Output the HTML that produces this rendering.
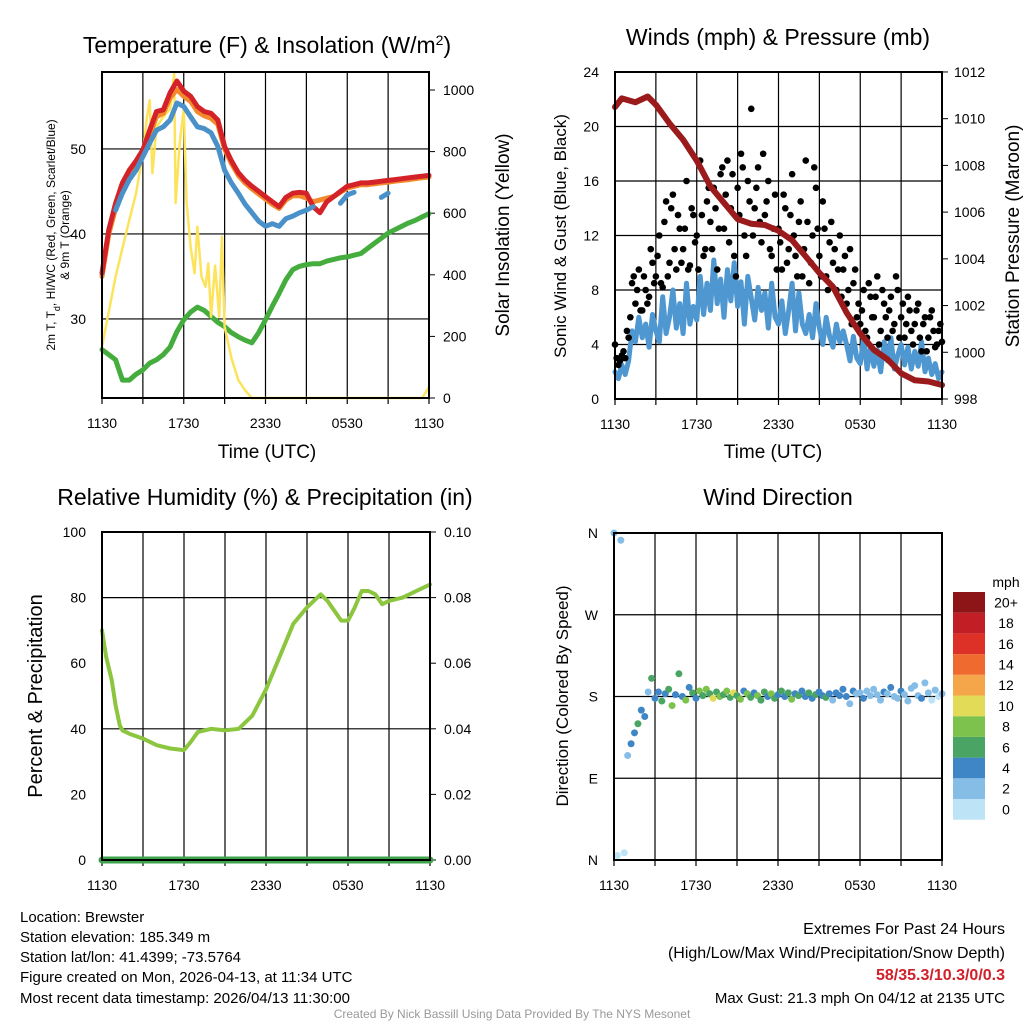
<!DOCTYPE html>
<html><head><meta charset="utf-8"><style>
html,body{margin:0;padding:0;background:#fff;}
svg{display:block;font-family:"Liberation Sans",Arial,sans-serif;}
</style></head><body>
<svg id="c" width="1024" height="1024" viewBox="0 0 1024 1024" xmlns="http://www.w3.org/2000/svg">
<rect width="1024" height="1024" fill="#fff"/>
<text x="267" y="53" font-size="23" text-anchor="middle">Temperature (F) &amp; Insolation (W/m<tspan baseline-shift="super" font-size="14">2</tspan>)</text>
<text x="778" y="45" font-size="23" text-anchor="middle">Winds (mph) &amp; Pressure (mb)</text>
<text x="265" y="505" font-size="23" text-anchor="middle">Relative Humidity (%) &amp; Precipitation (in)</text>
<text x="778" y="505" font-size="23" text-anchor="middle">Wind Direction</text>
<text x="267" y="458" font-size="19" text-anchor="middle">Time (UTC)</text>
<text x="773" y="458" font-size="19" text-anchor="middle">Time (UTC)</text>
<text transform="translate(55,235) rotate(-90)" font-size="12" text-anchor="middle">2m T, T<tspan baseline-shift="sub" font-size="9">d</tspan>, HI/WC (Red, Green, Scarlet/Blue)</text>
<text transform="translate(69,235) rotate(-90)" font-size="12" text-anchor="middle">&amp; 9m T (Orange)</text>
<text transform="translate(509,235) rotate(-90)" font-size="19" text-anchor="middle">Solar Insolation (Yellow)</text>
<text transform="translate(566,236) rotate(-90)" font-size="17" text-anchor="middle">Sonic Wind &amp; Gust (Blue, Black)</text>
<text transform="translate(1019,236) rotate(-90)" font-size="19" text-anchor="middle">Station Pressure (Maroon)</text>
<text transform="translate(42,696) rotate(-90)" font-size="20" text-anchor="middle">Percent &amp; Precipitation</text>
<text transform="translate(568,696) rotate(-90)" font-size="17" text-anchor="middle">Direction (Colored By Speed)</text>
<g font-size="15">
<text x="20" y="922">Location: Brewster</text>
<text x="20" y="942">Station elevation: 185.349 m</text>
<text x="20" y="962">Station lat/lon: 41.4399; -73.5764</text>
<text x="20" y="982">Figure created on Mon, 2026-04-13, at 11:34 UTC</text>
<text x="20" y="1003">Most recent data timestamp: 2026/04/13 11:30:00</text>
</g>
<g font-size="16" text-anchor="end">
<text x="1005" y="934">Extremes For Past 24 Hours</text>
<text x="1005" y="958">(High/Low/Max Wind/Precipitation/Snow Depth)</text>
<text x="1005" y="980" fill="#d0202a" font-weight="bold">58/35.3/10.3/0/0.3</text>
<text x="1005" y="1003" font-size="15">Max Gust: 21.3 mph On 04/12 at 2135 UTC</text>
</g>
<text x="512" y="1018" font-size="12" fill="#999" text-anchor="middle">Created By Nick Bassill Using Data Provided By The NYS Mesonet</text>
<g id="plots"></g>
</svg>
<script>
// ---------- data ----------
const halfHours = [0,0.5,1,1.5,2,2.5,3,3.5,4,4.5,5,5.5,6,6.5,7,7.5,8,8.5,9,9.5,10,10.5,11,11.5,12,12.5,13,13.5,14,14.5,15,15.5,16,16.5,17,17.5,18,18.5,19,19.5,20,20.5,21,21.5,22,22.5,23,23.5,24];
const tempRed = [35.4,40.5,43.6,46.0,47.5,48.6,49.9,52.2,54.4,54.6,56.6,58.0,56.8,56.2,55.0,54.4,54.2,53.4,50.3,48.6,47.2,46.3,45.6,45.0,44.4,43.8,43.2,44.3,44.8,44.9,44.8,43.2,42.5,43.8,44.4,45.0,45.6,45.8,46.0,46.0,46.1,46.2,46.3,46.4,46.5,46.6,46.7,46.8,46.9];
const tempOrange = [35.0,40.0,43.0,45.5,47.0,48.2,49.4,51.6,53.8,54.2,56.0,57.0,56.2,55.6,54.4,53.9,53.6,52.9,50.0,48.3,46.9,46.0,45.3,44.7,44.1,43.5,43.0,44.0,44.5,44.5,44.2,43.8,44.0,44.2,44.4,44.9,45.4,45.6,45.8,45.8,45.9,46.0,46.1,46.2,46.3,46.4,46.5,46.6,46.7];
const tempBlue = [null,null,42.8,44.8,46.4,47.5,49.1,50.7,52.2,52.6,53.4,55.4,55.0,53.8,52.6,52.4,51.9,50.3,47.5,46.0,44.8,43.5,42.5,41.5,40.9,41.2,40.9,41.8,42.1,42.5,42.8,43.2,null,41.3,null,43.6,44.6,44.9,null,null,null,44.3,44.8,null,null,null,null,null,null];
const dewGreen = [26.4,25.8,25.2,22.8,22.8,23.5,24.0,24.8,25.2,25.8,26.7,28.5,29.9,30.8,31.4,31.0,30.3,29.6,29.1,28.4,27.9,27.5,27.2,28.4,29.9,31.5,33.0,34.6,35.8,36.2,36.4,36.5,36.5,36.8,37.0,37.2,37.3,37.5,37.7,38.3,38.9,39.5,40.1,40.5,40.9,41.3,41.6,42.0,42.4];
const solarHours = [0,1,2,2.5,3,3.3,3.5,3.7,4,4.5,5,5.3,5.4,5.7,6,6.2,6.5,6.8,7,7.3,7.6,7.8,8,8.3,8.6,8.8,9,9.5,10,10.5,11,23.5,24];
const solarValues = [167,394,578,665,795,913,967,730,880,913,938,1055,633,828,938,640,491,405,556,394,361,437,264,430,264,524,231,130,58,25,0,0,35];
const tempTicks = [30,40,50];
const solarTicks = [0,200,400,600,800,1000];
const timeTickLabels = ['1130','1730','2330','0530','1130'];

const quarterHours = []; for (let i=0;i<=96;i++) quarterHours.push(i/4);
const sonicWind = [2.0,1.5,2.5,1.8, 2.8,5.0,4.2,6.0, 4.5,5.5,3.8,6.2, 5.0,4.2,7.5,4.8, 6.0,8.0,5.2,7.0, 4.8,8.5,5.5,6.8, 5.8,9.0,6.2,8.5, 6.5,10.2,7.0,8.8, 6.0,9.5,7.2,10.0, 6.8,8.6,5.5,9.0, 7.4,5.8,8.2,6.5, 7.8,5.2,8.5,6.0, 5.5,7.2,4.8,6.5, 8.5,5.0,7.8,5.5, 4.8,6.2,4.5,7.0, 5.2,4.0,6.0,4.6, 3.8,5.5,4.2,5.0, 4.0,2.8,4.6,3.0, 2.6,4.5,2.2,3.8, 2.4,3.6,2.0,4.2, 2.8,4.5,2.2,3.2, 4.0,2.5,3.8,2.2, 3.5,2.4,4.2,2.0, 3.0,1.8,2.6,1.5, 2.0];
const gustA = [4.0,2.5,3.2,3.0, 4.5,8.5,7.0,9.5, 6.5,8.0,7.5,10.0, 9.0,12.0,8.2,14.5, 10.0,15.0,9.5,12.5, 11.0,16.0,9.8,13.5, 12.0,17.5,10.5,14.5, 13.0,15.5,9.5,16.5, 12.5,17.5,14.0,10.5, 15.5,18.0,12.0,16.0, 21.3,14.0,17.0,11.5, 13.5,16.0,10.5,15.0, 12.5,9.5,14.0,11.0, 16.5,10.5,13.0,9.0, 17.5,8.5,12.0,15.5, 10.5,14.5,9.0,11.5, 10.0,8.0,12.0,9.5, 7.0,11.0,8.5,6.0, 5.5,8.0,4.5,7.5, 6.0,9.0,5.0,7.0, 4.5,7.5,5.5,8.0, 6.0,4.5,7.5,5.0, 5.5,7.0,3.5,6.0, 4.5,6.5,3.8,5.0, 4.2];
const gustB = [3.0,2.8,3.5,5.0, 6.0,9.0,8.0,6.5, 9.0,7.0,11.0,8.5, 10.5,8.5,13.0,9.0, 14.0,11.0,13.5,10.0, 12.5,9.5,14.0,11.5, 9.5,13.5,11.0,15.5, 11.0,14.0,12.5,17.0, 15.0,11.5,16.5,9.0, 13.5,17.0,10.5,14.5, 12.0,15.5,13.0,18.0, 14.5,11.0,12.5,9.5, 11.5,15.0,10.0,13.5, 12.0,9.0,14.5,11.0, 13.0,10.0,17.0,12.5, 9.0,12.5,8.0,13.0, 11.0,9.5,7.5,10.5, 8.0,5.5,9.5,7.0, 6.5,5.0,8.5,6.0, 7.5,4.0,8.0,6.0, 6.5,5.0,9.0,4.5, 7.0,5.5,6.5,4.0, 6.5,4.5,5.5,3.5, 6.0,5.0,4.0,5.5];
const pressureHours = [0,0.5,1.5,2.4,3,4,5,6,7,8,9,10,11,12,13,14,15,16,17,18,19,20,21,22,23,24];
const pressure = [1010.5,1010.87,1010.7,1010.95,1010.6,1009.8,1009.1,1008.2,1007.1,1006.4,1005.7,1005.5,1005.45,1005.2,1004.8,1004.1,1003.4,1002.8,1001.7,1000.8,1000.1,999.7,999.1,998.8,998.75,998.6];
const windTicks = [0,4,8,12,16,20,24];
const pressureTicks = [998,1000,1002,1004,1006,1008,1010,1012];

const rhHours = [0,0.3,0.7,1,1.3,1.5,2,3,4,5,6,6.5,7,8,9,10,11,12,13,14,15,16,16.5,17,17.5,18,18.5,19,19.5,20,20.5,21,22,23,24];
const rh = [70,62,55,47,41,39.5,38.5,37,35,34,33.5,36,39,40,39.5,40,44,52,62,72,77,81,79,76,73,73,77,82,82,81,78,79,80,82,84];
const precip = [0,0];
const precipHours = [0,24];
const rhTicks = [0,20,40,60,80,100];
const precipTicks = ['0.00','0.02','0.04','0.06','0.08','0.10'];

const direction = [360,5,352,8, 115,128,140,150, 165,158,185,200, 178,185,175,183, 188,170,182,205, 180,176,190,184, 178,186,181,188, 183,178,185,180, 182,186,179,184, 181,177,186,183, 179,184,181,176, 185,180,183,178, 182,186,180,184, 177,183,181,186, 180,184,178,182, 185,181,179,183, 176,184,181,188, 180,172,186,183, 184,178,186,181, 188,182,176,185, 183,190,180,178, 186,182,175,189, 192,181,178,195, 184,176,187,180, 183];
const dirLabels = ['N','E','S','W','N'];
const speedBinLabels = ['0','2','4','6','8','10','12','14','16','18','20+'];
const speedBinColors = ['#bde3f6','#86bde6','#3f86c6','#4aa564','#7cc24d','#e2db57','#f6a64a','#ef6a2e','#dd3128','#c11f25','#8e1517'];

// ---------- helpers ----------
const NS='http://www.w3.org/2000/svg';
const root=document.getElementById('plots');
function mk(tag, attrs, parent){const e=document.createElementNS(NS,tag);for(const k in attrs)e.setAttribute(k,attrs[k]);(parent||root).appendChild(e);return e;}
function path(xs, ys, xf, yf, color, w, name){
  let d='',pen=false;
  for(let i=0;i<xs.length;i++){ if(ys[i]==null){pen=false;continue;} d+=(pen?'L':'M')+xf(xs[i]).toFixed(1)+','+yf(ys[i]).toFixed(1); pen=true; }
  const p=mk('path',{d:d,fill:'none',stroke:color,'stroke-width':w,'stroke-linejoin':'round','stroke-linecap':'round'});
  
  
  return p;
}
function frame(x0,y0,x1,y1,name,hgrid,vgridX){
  const g=mk('g',{});
  
  
  hgrid.forEach(y=>mk('line',{x1:x0,x2:x1,y1:y,y2:y,stroke:'#000','stroke-width':1.2},g));
  vgridX.forEach(x=>{mk('line',{x1:x,x2:x,y1:y0,y2:y1,stroke:'#000','stroke-width':1.2},g);mk('line',{x1:x,x2:x,y1:y1,y2:y1+6,stroke:'#000','stroke-width':1.2},g);});
  return g;
}
function box(x0,y0,x1,y1){const r=mk('rect',{x:x0,y:y0,width:x1-x0,height:y1-y0,fill:'none',stroke:'#000','stroke-width':2});}
function txt(x,y,s,anchor,size,name){const t=mk('text',{x:x,y:y,'font-size':size||14,'text-anchor':anchor||'middle'});t.textContent=s;return t;}
function timeTicks(x0,W,y){timeTickLabels.forEach((s,i)=>txt(x0+i*W/4,y,s,'middle',14,'x-tick-label'));}

// ---------- panel 1: temperature ----------
{
  const x0=102,x1=429,y0=72,y1=398;
  const X=t=>x0+t*(x1-x0)/24, YT=v=>y1-(v-20.7)*8.5, YS=w=>y1-w*0.308;
  const vg=[];for(let h=3;h<24;h+=3)vg.push(X(h));vg.push(X(0),X(24));
  frame(x0,y0,x1,y1,'temp-grid',tempTicks.map(YT),vg);
  tempTicks.forEach(v=>txt(x0-16,YT(v)+5,String(v),'end',14,'temp-tick-label'));
  solarTicks.forEach(v=>{txt(x1+14,YS(v)+5,String(v),'start',14,'solar-tick-label');mk('line',{x1:x1,x2:x1+6,y1:YS(v),y2:YS(v),stroke:'#000'});});
  timeTicks(x0,x1-x0,y1+30);
  path(halfHours,dewGreen,X,YT,'#44ad3e',5,'dewpoint-line');
  path(solarHours,solarValues,X,YS,'#fde35c',2.5,'insolation-line');
  path(halfHours,tempOrange,X,YT,'#f28a2c',5,'temp-9m-line');
  path(halfHours,tempRed,X,YT,'#d42328',5,'temp-2m-line');
  path(halfHours,tempBlue,X,YT,'#4b91c9',5,'heat-index-line');
  box(x0,y0,x1,y1);
}
// ---------- panel 2: winds ----------
{
  const x0=615,x1=942,y0=72,y1=399;
  const X=t=>x0+t*(x1-x0)/24, YW=v=>y1-v*13.625, YP=p=>y1-(p-998)*23.36;
  const vg=[];for(let h=3;h<24;h+=3)vg.push(X(h));vg.push(X(0),X(24));
  frame(x0,y0,x1,y1,'winds-grid',windTicks.map(YW),vg);
  windTicks.forEach(v=>txt(x0-16,YW(v)+5,String(v),'end',14,'wind-tick-label'));
  pressureTicks.forEach(v=>{txt(x1+12,YP(v)+5,String(v),'start',14,'pressure-tick-label');mk('line',{x1:x1,x2:x1+6,y1:YP(v),y2:YP(v),stroke:'#000'});});
  timeTicks(x0,x1-x0,y1+30);
  path(quarterHours,sonicWind,X,YW,'#4f97d0',5,'sonic-wind-line');
  gustA.forEach((v,i)=>{const c=mk('circle',{cx:X(quarterHours[i]),cy:YW(v),r:3.3,fill:'#000'});
    
    });
  gustB.forEach((v,i)=>{const c=mk('circle',{cx:X(quarterHours[i]+0.125),cy:YW(v),r:3.3,fill:'#000'});
    
    });
  path(pressureHours,pressure,X,YP,'#9b1b1c',6,'pressure-line');
  box(x0,y0,x1,y1);
}
// ---------- panel 3: humidity ----------
{
  const x0=102,x1=430,y0=532,y1=860;
  const X=t=>x0+t*(x1-x0)/24, YR=v=>y1-v*3.28;
  const vg=[];for(let h=3;h<24;h+=3)vg.push(X(h));vg.push(X(0),X(24));
  frame(x0,y0,x1,y1,'humidity-grid',[YR(40),YR(80)],vg);
  rhTicks.forEach((v,i)=>{txt(x0-16,YR(v)+5,String(v),'end',14,'rh-tick-label');txt(x1+14,YR(v)+5,precipTicks[i],'start',14,'precip-tick-label');mk('line',{x1:x1,x2:x1+6,y1:YR(v),y2:YR(v),stroke:'#000'});});
  timeTicks(x0,x1-x0,y1+30);
  path(rhHours,rh,X,YR,'#8cc63f',4,'humidity-line');
  path(precipHours,precip.map(v=>v*1000),X,YR,'#3fa34d',7,'precip-line');
  box(x0,y0,x1,y1);
}
// ---------- panel 4: direction ----------
{
  const x0=614,x1=942,y0=533,y1=860;
  const X=t=>x0+t*(x1-x0)/24, YD=d=>y1-d*(y1-y0)/360;
  const vg=[];for(let h=3;h<24;h+=3)vg.push(X(h));vg.push(X(0),X(24));
  frame(x0,y0,x1,y1,'direction-grid',[0,90,180,270,360].map(YD),vg);
  dirLabels.forEach((s,i)=>txt(x0-16,YD(i*90)+5,s,'end',14,'direction-tick-label'));
  timeTicks(x0,x1-x0,y1+30);
  const binOf=v=>Math.min(10,Math.floor(v/2));
  direction.forEach((d,i)=>{const c=mk('circle',{cx:X(quarterHours[i]),cy:YD(d),r:3.5,fill:speedBinColors[binOf(sonicWind[i])]});
    
    });
  box(x0,y0,x1,y1);
  const cb=mk('g',{});
  
  
  const bh=20.7, top=592;
  speedBinColors.forEach((col,i)=>{const k=10-i;mk('rect',{x:953,y:top+k*bh,width:32,height:bh,fill:col},cb);});
  speedBinLabels.forEach((s,i)=>{const k=10-i;txt(1006,top+k*bh+bh/2+5,s,'middle',14,'colorbar-label');});
  txt(1006,587,'mph','middle',14,'colorbar-title');
}
</script>
</body></html>
